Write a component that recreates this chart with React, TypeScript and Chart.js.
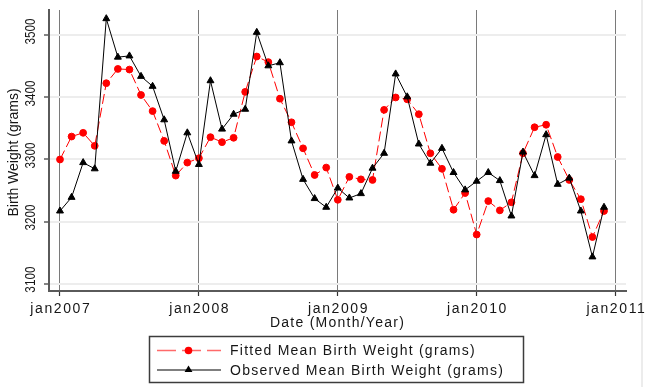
import { useEffect, useRef } from "react";
import { Chart, registerables } from "chart.js";

Chart.register(...registerables);

// Months since jan2007 (index) -> values
const fittedWeight = [
  3300, 3337, 3343, 3322, 3423, 3446, 3445, 3404, 3378, 3330, 3274, 3295,
  3302, 3336, 3328, 3335, 3409, 3466, 3457, 3398, 3360, 3318, 3275, 3287,
  3235, 3272, 3268, 3267, 3380, 3400, 3397, 3373, 3310, 3285, 3219, 3246,
  3179, 3233, 3218, 3231, 3310, 3352, 3356, 3304, 3267, 3236, 3175, 3217,
];
const observedWeight = [
  3217, 3239, 3295, 3285, 3527, 3465, 3467, 3434, 3418, 3364, 3281, 3343,
  3292, 3427, 3349, 3373, 3381, 3505, 3451, 3456, 3330, 3268, 3237, 3223,
  3254, 3238, 3245, 3286, 3310, 3438, 3401, 3325, 3294, 3318, 3279, 3251,
  3265, 3279, 3266, 3209, 3312, 3274, 3340, 3260, 3270, 3217, 3143, 3223,
];
const yearTicks = [0, 12, 24, 36, 48];
const yearTickLabels = ["jan2007", "jan2008", "jan2009", "jan2010", "jan2011"];
const weightTicks = [3100, 3200, 3300, 3400, 3500];
const xTitle = "Date (Month/Year)";
const yTitle = "Birth Weight (grams)";
const fittedLabel = "Fitted Mean Birth Weight (grams)";
const observedLabel = "Observed Mean Birth Weight (grams)";

const TEXT = "#161616";
const FONT = '"Liberation Sans", Arial, sans-serif';

const stataText = {
  id: "stataText",
  beforeDraw(chart: any) {
    const ctx = chart.ctx;
    ctx.save();
    ctx.fillStyle = "#ffffff";
    ctx.fillRect(0, 0, chart.width, chart.height);
    ctx.strokeStyle = "#ececec";
    ctx.lineWidth = 2;
    ctx.beginPath();
    ctx.moveTo(642, 0);
    ctx.lineTo(642, chart.height);
    ctx.stroke();
    ctx.restore();
  },
  afterDraw(chart: any) {
    const ctx = chart.ctx;
    const xs = chart.scales.x;
    const ys = chart.scales.y;
    const area = chart.chartArea;
    ctx.save();
    ctx.fillStyle = TEXT;

    // y tick labels (rotated, narrow)
    ys.ticks.forEach((t: any) => {
      const py = ys.getPixelForValue(t.value);
      ctx.save();
      ctx.translate(30, py - 4);
      ctx.rotate(-Math.PI / 2);
      ctx.scale(0.84, 1);
      ctx.font = `14px ${FONT}`;
      ctx.textAlign = "center";
      ctx.textBaseline = "alphabetic";
      ctx.fillText(String(t.value), 0, 5);
      ctx.restore();
    });

    // y title
    ctx.save();
    ctx.translate(13, (area.top + area.bottom) / 2 + 2);
    ctx.rotate(-Math.PI / 2);
    ctx.font = `14px ${FONT}`;
    ctx.textAlign = "center";
    ctx.textBaseline = "alphabetic";
    ctx.fillText(yTitle, 0, 4.5);
    ctx.restore();

    // x tick labels
    ctx.font = `14px ${FONT}`;
    ctx.textAlign = "center";
    ctx.textBaseline = "alphabetic";
    (ctx as any).letterSpacing = "1.6px";
    xs.ticks.forEach((t: any, i: number) => {
      const px = xs.getPixelForValue(t.value);
      ctx.fillText(yearTickLabels[i] ?? String(t.value), px + 0.8, 312.7);
    });

    // x title
    (ctx as any).letterSpacing = "1.25px";
    ctx.fillText(xTitle, (area.left + area.right) / 2, 327);

    // legend box
    (ctx as any).letterSpacing = "1.25px";
    ctx.strokeStyle = "#3c3c3c";
    ctx.lineWidth = 1.5;
    ctx.strokeRect(149.5, 336.5, 374, 46);

    const rows = [
      { ds: chart.data.datasets[0], y: 350.5, base: 355.3 },
      { ds: chart.data.datasets[1], y: 370, base: 374.6 },
    ];
    rows.forEach((r) => {
      const ds: any = r.ds;
      ctx.save();
      ctx.strokeStyle = ds.legendLine;
      ctx.lineWidth = 1.5;
      ctx.setLineDash(ds.borderDash && ds.borderDash.length ? [19, 6] : []);
      ctx.beginPath();
      ctx.moveTo(157, r.y);
      ctx.lineTo(221, r.y);
      ctx.stroke();
      ctx.setLineDash([]);
      ctx.fillStyle = ds.pointBackgroundColor;
      ctx.beginPath();
      if (ds.pointStyle === "triangle") {
        const rr = 4;
        const cy = r.y - 0.5;
        ctx.moveTo(188.5, cy - rr);
        ctx.lineTo(188.5 + rr * 0.866 + 0.5, cy + rr * 0.5 + 0.5);
        ctx.lineTo(188.5 - rr * 0.866 - 0.5, cy + rr * 0.5 + 0.5);
        ctx.closePath();
      } else {
        ctx.arc(188.5, r.y, 3.8, 0, Math.PI * 2);
      }
      ctx.fill();
      ctx.restore();
      ctx.fillStyle = TEXT;
      ctx.textAlign = "left";
      ctx.font = `14px ${FONT}`;
      ctx.fillText(ds.label, 230, r.base);
    });
    ctx.restore();
  },
};

export default function App() {
  const ref = useRef<HTMLCanvasElement | null>(null);

  useEffect(() => {
    document.body.style.margin = "0";
    document.body.style.overflow = "hidden";
    const canvas = ref.current;
    if (!canvas) return;
    const chart = new Chart(canvas, {
      type: "line",
      data: {
        datasets: [
          {
            label: fittedLabel,
            data: fittedWeight.map((v, i) => ({ x: i, y: v })),
            borderColor: "#ff0000",
            borderWidth: 1,
            borderDash: [10, 4],
            pointStyle: "circle",
            pointRadius: 3.4,
            pointBorderWidth: 1,
            pointBackgroundColor: "#ff0000",
            pointBorderColor: "#ff0000",
            tension: 0,
            order: 2,
            legendLine: "#ff6a6a",
          } as any,
          {
            label: observedLabel,
            data: observedWeight.map((v, i) => ({ x: i, y: v })),
            borderColor: "#000000",
            borderWidth: 1,
            pointStyle: "triangle",
            pointRadius: 4,
            pointBorderWidth: 1,
            pointBackgroundColor: "#000000",
            pointBorderColor: "#000000",
            tension: 0,
            order: 1,
            legendLine: "#555555",
          } as any,
        ],
      },
      options: {
        animation: false,
        responsive: false,
        devicePixelRatio: 1,
        layout: { padding: { left: 0, right: 19, top: 10, bottom: 0 } },
        plugins: { legend: { display: false }, tooltip: { enabled: false } },
        scales: {
          x: {
            type: "linear",
            min: -0.95,
            max: 48.9,
            afterBuildTicks: (s: any) => {
              s.ticks = yearTicks.map((v) => ({ value: v }));
            },
            afterFit: (s: any) => {
              s.height = 96;
            },
            ticks: { display: false },
            grid: {
              color: "#7a7a7a",
              lineWidth: 1,
              drawTicks: true,
              tickLength: 5,
              tickColor: "#333333",
              tickWidth: 1.2,
            },
            border: { display: true, color: "#5a5a5a", width: 2 },
          },
          y: {
            type: "linear",
            min: 3088,
            max: 3541,
            afterBuildTicks: (s: any) => {
              s.ticks = weightTicks.map((v) => ({ value: v }));
            },
            afterFit: (s: any) => {
              s.width = 49;
            },
            ticks: { display: false },
            grid: {
              color: "#ededed",
              lineWidth: 2,
              drawTicks: true,
              tickLength: 5,
              tickColor: "#333333",
              tickWidth: 1.2,
            },
            border: { display: true, color: "#5a5a5a", width: 2 },
          },
        },
      },
      plugins: [stataText],
    } as any);
    return () => chart.destroy();
  }, []);

  return (
    <canvas
      ref={ref}
      width={645}
      height={387}
      style={{ display: "block", width: 645, height: 387 }}
    />
  );
}
